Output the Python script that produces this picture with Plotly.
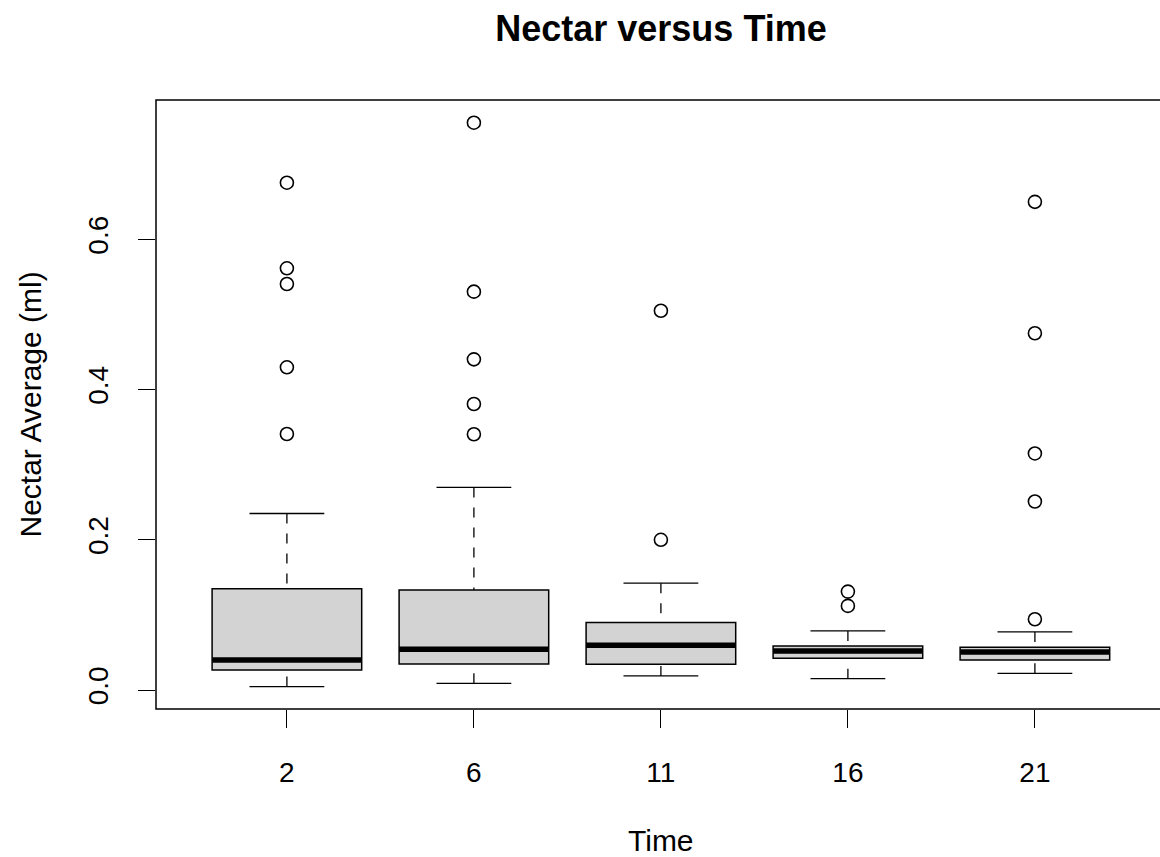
import plotly.graph_objects as go

# ---- data ----
time_labels = ["2", "6", "11", "16", "21"]
lower_whisker = [0.0045, 0.0089, 0.0187, 0.0151, 0.0222]
q1_values = [0.0267, 0.0347, 0.0342, 0.0422, 0.0400]
median_values = [0.0400, 0.0542, 0.0596, 0.0520, 0.0507]
q3_values = [0.1347, 0.1333, 0.0898, 0.0587, 0.0569]
upper_whisker = [0.2350, 0.2697, 0.1422, 0.0787, 0.0773]
outliers = [
    [0.6755, 0.5615, 0.5406, 0.4297, 0.3409],
    [0.7554, 0.5304, 0.4403, 0.3808, 0.3405],
    [0.5050, 0.2000],
    [0.1310, 0.1120],
    [0.6500, 0.4750, 0.3150, 0.2510, 0.0942],
]

positions = list(range(1, len(time_labels) + 1))
BOX_HALF = 0.4
STAPLE_HALF = 0.2

fig = go.Figure()

# box bodies (whiskers drawn separately as dashed lines, like R)
fig.add_trace(go.Box(
    x=positions, q1=q1_values, median=median_values, q3=q3_values,
    lowerfence=q1_values, upperfence=q3_values,
    width=2 * BOX_HALF, fillcolor="#D3D3D3",
    line=dict(color="black", width=1.5), whiskerwidth=0,
    boxpoints=False, showlegend=False, hoverinfo="skip",
))

# thick median lines
mx, my = [], []
for p, m in zip(positions, median_values):
    mx += [p - BOX_HALF, p + BOX_HALF, None]
    my += [m, m, None]
fig.add_trace(go.Scatter(x=mx, y=my, mode="lines",
                         line=dict(color="black", width=5.5),
                         showlegend=False, hoverinfo="skip"))

# dashed whiskers
wx, wy = [], []
for p, lo, a, b, hi in zip(positions, lower_whisker, q1_values, q3_values, upper_whisker):
    wx += [p, p, None, p, p, None]
    wy += [hi, b, None, lo, a, None]
fig.add_trace(go.Scatter(x=wx, y=wy, mode="lines",
                         line=dict(color="black", width=1.3, dash="10px,10px"),
                         showlegend=False, hoverinfo="skip"))

# staples
sx, sy = [], []
for p, lo, hi in zip(positions, lower_whisker, upper_whisker):
    sx += [p - STAPLE_HALF, p + STAPLE_HALF, None, p - STAPLE_HALF, p + STAPLE_HALF, None]
    sy += [hi, hi, None, lo, lo, None]
fig.add_trace(go.Scatter(x=sx, y=sy, mode="lines",
                         line=dict(color="black", width=1.3),
                         showlegend=False, hoverinfo="skip"))

# outliers
ox, oy = [], []
for p, pts in zip(positions, outliers):
    ox += [p] * len(pts)
    oy += pts
fig.add_trace(go.Scatter(x=ox, y=oy, mode="markers",
                         marker=dict(symbol="circle-open", size=13,
                                     color="black", line=dict(width=1.6)),
                         showlegend=False, hoverinfo="skip"))

FONT = "Liberation Sans, Arial, Helvetica, sans-serif"

fig.update_layout(
    width=1160, height=857,
    margin=dict(l=156, r=0, t=100, b=148),
    paper_bgcolor="white", plot_bgcolor="white",
    font=dict(family=FONT, size=28, color="black"),
    title=dict(text="<b>Nectar versus Time</b>", font=dict(size=36, family=FONT),
               x=0.503, xref="paper", xanchor="center",
               y=1 - 28 / 857, yref="container", yanchor="middle"),
    xaxis=dict(range=[0.3, 0.3 + 1004 / 187.0], tickmode="array",
               tickvals=positions, ticktext=time_labels,
               ticks="outside", ticklen=18, tickwidth=1.3, tickcolor="black",
               showgrid=False, zeroline=False, showline=False,
               ticklabelstandoff=20, tickfont=dict(size=28)),
    yaxis=dict(range=[-0.0253, 0.7856], tickmode="array",
               tickvals=[0.0, 0.2, 0.4, 0.6], ticktext=["0.0", "0.2", "0.4", "0.6"],
               ticks="outside", ticklen=17, tickwidth=1.3, tickcolor="black",
               showgrid=False, zeroline=False, showline=False, tickangle=-90,
               ticklabelstandoff=19, tickfont=dict(size=28)),
    shapes=[dict(type="rect", xref="paper", yref="paper", x0=0, x1=1.02, y0=0, y1=1,
                 line=dict(color="black", width=1.5), layer="above")],
    annotations=[
        dict(text="Time", xref="paper", yref="paper", x=0.503, y=(709 - 840) / 609,
             xanchor="center", yanchor="middle", showarrow=False, font=dict(size=30)),
        dict(text="Nectar Average (ml)", xref="paper", yref="paper",
             x=(30 - 156) / 1004, y=0.5, textangle=-90,
             xanchor="center", yanchor="middle", showarrow=False, font=dict(size=30)),
    ],
)

fig.write_html("out.html")
